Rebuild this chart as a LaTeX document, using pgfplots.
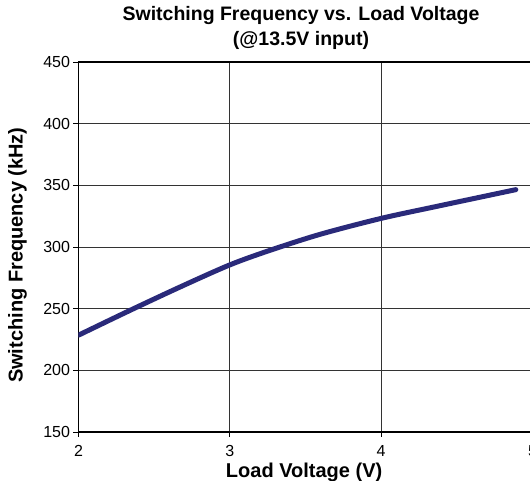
\documentclass[border=0pt]{standalone}
\usepackage{pgfplots}
\pgfplotsset{compat=1.18}
\usepackage{fontspec}
\setmainfont{Liberation Sans}
\definecolor{navy}{RGB}{42,42,122}
\begin{document}
\begin{tikzpicture}
\begin{axis}[
  scale only axis,
  width=454pt, height=370pt,
  at={(78.5pt,49pt)}, anchor=south west,
  xmin=2, xmax=5, ymin=150, ymax=450,
  xtick={2,3,4,5}, ytick={150,200,...,450},
  grid=major,
  major grid style={line width=0.9pt, black!80},
  axis line style={line width=1.6pt, black},
  tick align=outside,
  tick pos=left,
  major tick length=5pt,
  tick style={line width=0.9pt, black},
  /pgf/number format/assume math mode=true,
  ticklabel style={font=\fontsize{16}{18}\selectfont},
  xticklabel style={yshift=-5pt},
  xlabel={\textbf{Load Voltage (V)}},
  ylabel={\textbf{Switching Frequency (kHz)}},
  label style={font=\fontsize{20}{22}\selectfont},
  xlabel style={at={(axis description cs:0.497,0)}, anchor=north, yshift=-27pt},
  ylabel style={at={(axis description cs:0,0.478)}, anchor=south, xshift=0pt, yshift=48pt},
]
\addplot[navy, line width=5pt, line cap=round, smooth] coordinates {
(2,228.5) (2.33,248) (2.67,267.5) (3,285.5) (3.27,297.5) (3.6,310.4)
(4,323.2) (4.37,333) (4.89,346.5)
};
\end{axis}
\node[font=\fontsize{19.5}{22}\selectfont\bfseries, anchor=base] at (301pt,460pt) {Switching Frequency vs. Load Voltage};
\node[font=\fontsize{19.5}{22}\selectfont\bfseries, anchor=base] at (301pt,435pt) {(@13.5V input)};
\pgfresetboundingbox
\useasboundingbox (0,0) rectangle (530pt,481pt);
\end{tikzpicture}
\end{document}
